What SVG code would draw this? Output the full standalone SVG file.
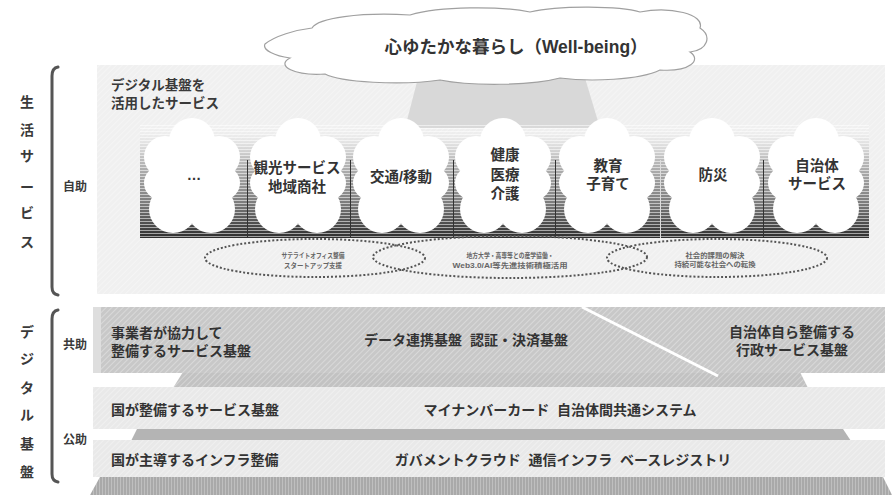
<svg xmlns="http://www.w3.org/2000/svg" xmlns:xlink="http://www.w3.org/1999/xlink" width="892" height="495" viewBox="0 0 892 495">
<style>
text{font-family:'Liberation Sans','Noto Sans CJK JP',sans-serif;font-weight:700;fill:#333;white-space:pre}
.side{font-size:14px;text-anchor:middle;fill:#3a3a3a}
.sub{font-size:12px;text-anchor:middle;fill:#3a3a3a}
.tl{font-size:14.5px;text-anchor:middle;fill:#333}
.bt{font-size:14px;fill:#333}
.btc{font-size:14px;fill:#333;text-anchor:middle}
.et{font-size:7px;text-anchor:middle;fill:#666}
.ell{fill:none;stroke:#555;stroke-width:2;stroke-dasharray:2 2}
.brk{fill:none;stroke:#555;stroke-width:3;stroke-linecap:round}
</style>
<defs>
<linearGradient id="tg" x1="0" y1="0" x2="0" y2="1">
<stop offset="0" stop-color="#f0f0f0" stop-opacity="0"/>
<stop offset="0.3" stop-color="#bdbdbd"/>
<stop offset="0.7" stop-color="#7a7a7a"/>
<stop offset="1" stop-color="#2e2e2e"/>
</linearGradient>
<pattern id="stripes" width="4" height="3" patternUnits="userSpaceOnUse">
<rect x="0" y="2" width="4" height="1" fill="#ffffff" opacity="0.55"/>
</pattern>
<pattern id="hatch" width="4" height="4" patternUnits="userSpaceOnUse" patternTransform="rotate(45)">
<rect x="0" y="0" width="1" height="4" fill="#ffffff" opacity="0.3"/>
</pattern>
<pattern id="vhatch" width="3" height="3" patternUnits="userSpaceOnUse">
<rect x="0" y="0" width="1" height="3" fill="#ffffff" opacity="0.25"/>
</pattern>
<g id="tcl" fill="#ffffff">
<circle cx="0" cy="-36" r="23"/>
<circle cx="-27" cy="-20" r="21"/>
<circle cx="27" cy="-20" r="21"/>
<circle cx="-31" cy="6" r="17"/>
<circle cx="31" cy="6" r="17"/>
<circle cx="-19" cy="32" r="24"/>
<circle cx="19" cy="32" r="24"/>
<ellipse cx="0" cy="0" rx="35" ry="40"/>
</g>
</defs>
<rect width="892" height="495" fill="#ffffff"/>

<g id="life-area">
<rect x="97" y="65" width="788" height="229" fill="#f0f0f0"/>
<rect x="97" y="65" width="788" height="229" fill="url(#hatch)"/>
<polygon points="418,78 585,78 600,128 405,128" fill="#d8d8d8"/>
</g>

<g id="wellbeing">
<path d="M265,44 C275,36 295,30 312,28 C318,18 360,12 410,15 C440,6 500,6 530,12 C560,5 620,6 640,12 C670,6 705,14 700,28 C712,36 708,50 690,52 C702,60 690,72 660,70 C640,80 590,82 560,78 C530,86 470,86 440,80 C400,86 340,82 325,74 C295,76 275,66 290,58 C275,56 262,50 265,44 Z" fill="#ffffff" stroke="#a0a0a0" stroke-width="1.2"/>
<text x="516" y="53" style="font-size:17.5px;text-anchor:middle;fill:#333">心ゆたかな暮らし（Well-being）</text>
</g>

<g id="label-life">
<path class="brk" d="M58,67 Q52,68 52,76 L52,287 Q52,294 58,295"/>
<text class="side" x="27" y="107">生</text>
<text class="side" x="27" y="135">活</text>
<text class="side" x="27" y="161">サ</text>
<text class="side" x="27" y="192">ー</text>
<text class="side" x="27" y="218">ビ</text>
<text class="side" x="27" y="247">ス</text>
<text class="sub" x="75" y="191">自助</text>
</g>
<g id="label-digital">
<path class="brk" d="M58,310 Q52,311 52,319 L52,474 Q52,481 58,482"/>
<text class="side" x="27" y="337">デ</text>
<text class="side" x="27" y="364">ジ</text>
<text class="side" x="27" y="393">タ</text>
<text class="side" x="27" y="420">ル</text>
<text class="side" x="27" y="449">基</text>
<text class="side" x="27" y="477">盤</text>
<text class="sub" x="75" y="349">共助</text>
<text class="sub" x="75" y="444">公助</text>
</g>

<g id="life-title">
<text x="111" y="90" style="font-size:13.5px;fill:#3a3a3a">デジタル基盤を</text>
<text x="111" y="108" style="font-size:13.5px;fill:#3a3a3a">活用したサービス</text>
</g>

<g id="tile-1">
<rect x="140" y="125" width="107" height="113" fill="url(#tg)"/>
<rect x="140" y="125" width="107" height="113" fill="url(#stripes)"/>
<use xlink:href="#tcl" x="192" y="177"/>
<text class="tl" x="194" y="180">…</text>
</g>
<g id="tile-2">
<rect x="247" y="125" width="103" height="113" fill="url(#tg)"/>
<rect x="247" y="125" width="103" height="113" fill="url(#stripes)"/>
<line x1="247.5" y1="160" x2="247.5" y2="238" stroke="#333" stroke-width="1"/>
<use xlink:href="#tcl" x="298" y="177"/>
<text class="tl" x="297" y="173">観光サービス</text>
<text class="tl" x="297" y="192">地域商社</text>
</g>
<g id="tile-3">
<rect x="350" y="125" width="103" height="113" fill="url(#tg)"/>
<rect x="350" y="125" width="103" height="113" fill="url(#stripes)"/>
<line x1="350.5" y1="160" x2="350.5" y2="238" stroke="#333" stroke-width="1"/>
<use xlink:href="#tcl" x="401" y="177"/>
<text class="tl" x="401" y="182">交通/移動</text>
</g>
<g id="tile-4">
<rect x="453" y="125" width="102" height="113" fill="url(#tg)"/>
<rect x="453" y="125" width="102" height="113" fill="url(#stripes)"/>
<line x1="453.5" y1="160" x2="453.5" y2="238" stroke="#333" stroke-width="1"/>
<use xlink:href="#tcl" x="503" y="177"/>
<text class="tl" x="505" y="160">健康</text>
<text class="tl" x="505" y="180">医療</text>
<text class="tl" x="505" y="199">介護</text>
</g>
<g id="tile-5">
<rect x="555" y="125" width="105" height="113" fill="url(#tg)"/>
<rect x="555" y="125" width="105" height="113" fill="url(#stripes)"/>
<line x1="555.5" y1="160" x2="555.5" y2="238" stroke="#333" stroke-width="1"/>
<use xlink:href="#tcl" x="607" y="177"/>
<text class="tl" x="608" y="171">教育</text>
<text class="tl" x="608" y="189">子育て</text>
</g>
<g id="tile-6">
<rect x="660" y="125" width="103" height="113" fill="url(#tg)"/>
<rect x="660" y="125" width="103" height="113" fill="url(#stripes)"/>
<line x1="660.5" y1="160" x2="660.5" y2="238" stroke="#ddd" stroke-width="1"/>
<use xlink:href="#tcl" x="712" y="177"/>
<text class="tl" x="713" y="180">防災</text>
</g>
<g id="tile-7">
<rect x="763" y="125" width="106" height="113" fill="url(#tg)"/>
<rect x="763" y="125" width="106" height="113" fill="url(#stripes)"/>
<line x1="763.5" y1="160" x2="763.5" y2="238" stroke="#333" stroke-width="1"/>
<use xlink:href="#tcl" x="816" y="177"/>
<text class="tl" x="817" y="171">自治体</text>
<text class="tl" x="817" y="189">サービス</text>
</g>

<g id="ellipse-a">
<ellipse class="ell" cx="315" cy="258" rx="110" ry="19"/>
<text class="et" x="313" y="257.5" textLength="63" lengthAdjust="spacingAndGlyphs">サテライトオフィス整備</text>
<text class="et" x="313" y="267.5" textLength="58" lengthAdjust="spacingAndGlyphs">スタートアップ支援</text>
</g>
<g id="ellipse-b">
<ellipse class="ell" cx="510" cy="257" rx="137" ry="21"/>
<text class="et" x="510" y="257.5" textLength="87" lengthAdjust="spacingAndGlyphs">地方大学・高専等との産学協働・</text>
<text class="et" x="510" y="267.5" textLength="115" lengthAdjust="spacingAndGlyphs">Web3.0/AI等先進技術積極活用</text>
</g>
<g id="ellipse-c">
<ellipse class="ell" cx="717" cy="258" rx="110" ry="19"/>
<text class="et" x="715" y="257.5" textLength="59" lengthAdjust="spacingAndGlyphs">社会的課題の解決</text>
<text class="et" x="715" y="267" textLength="81" lengthAdjust="spacingAndGlyphs">持続可能な社会への転換</text>
</g>

<g id="band-kyojo">
<polygon points="183,372 800,372 808,388 173,388" fill="#c2c2c2"/>
<polygon points="183,372 800,372 808,388 173,388" fill="url(#hatch)"/>
<rect x="93" y="307" width="792" height="66" fill="#c8c8c8"/>
<rect x="93" y="307" width="792" height="66" fill="url(#hatch)"/>
<rect x="93" y="307" width="8" height="66" fill="#dedede"/>
<line x1="582" y1="307" x2="718" y2="376" stroke="#ffffff" stroke-width="3"/>
<text class="bt" x="111" y="338">事業者が協力して</text>
<text class="bt" x="111" y="356">整備するサービス基盤</text>
<text class="btc" x="466" y="345" xml:space="preserve">データ連携基盤  認証・決済基盤</text>
<text class="btc" x="792" y="337">自治体自ら整備する</text>
<text class="btc" x="792" y="355">行政サービス基盤</text>
</g>
<g id="band-kuni-service">
<rect x="93" y="387" width="792" height="42" fill="#e9e9e9"/>
<rect x="93" y="387" width="792" height="42" fill="url(#hatch)"/>
<polygon points="137,429 843,429 851,441 131,441" fill="#b4b4b4"/>
<text class="bt" x="111" y="415">国が整備するサービス基盤</text>
<text class="btc" x="560" y="415" xml:space="preserve">マイナンバーカード  自治体間共通システム</text>
</g>
<g id="band-kuni-infra">
<rect x="93" y="440" width="792" height="37" fill="#e9e9e9"/>
<rect x="93" y="440" width="792" height="37" fill="url(#hatch)"/>
<polygon points="100,477 883,477 892,495 90,495" fill="#a9a9a9"/>
<polygon points="100,477 883,477 892,495 90,495" fill="url(#vhatch)"/>
<text class="bt" x="111" y="465">国が主導するインフラ整備</text>
<text class="btc" x="563" y="465" xml:space="preserve">ガバメントクラウド  通信インフラ  ベースレジストリ</text>
</g>
</svg>
